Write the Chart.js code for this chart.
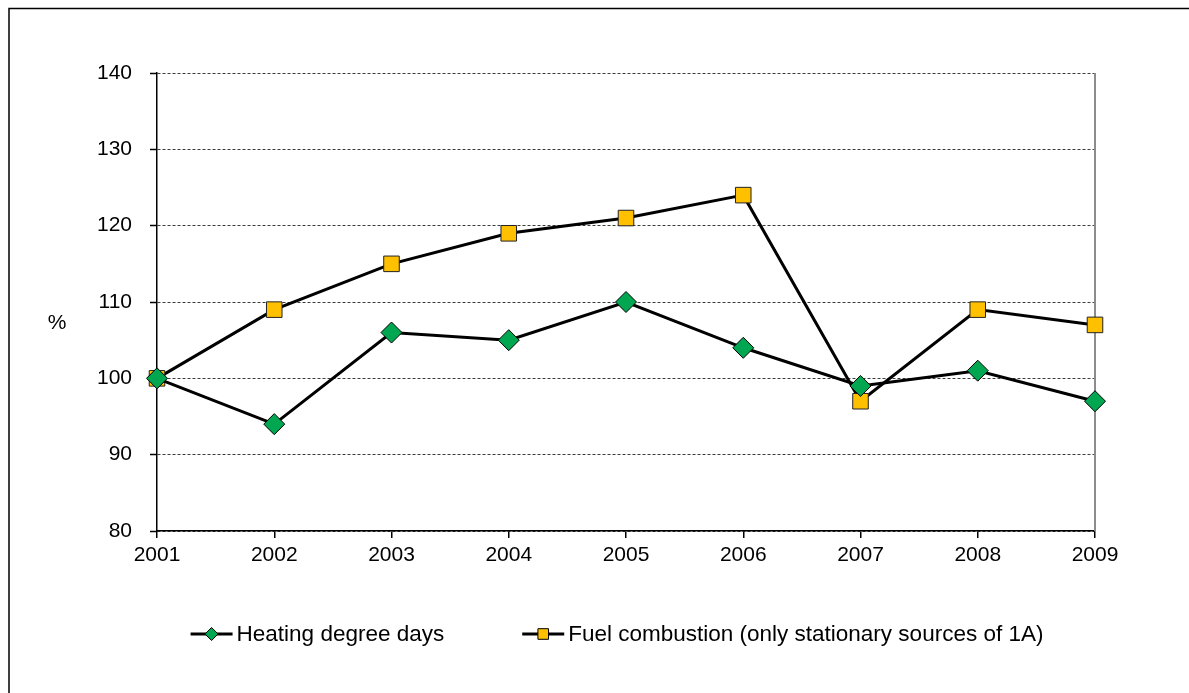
<!DOCTYPE html>
<html>
<head>
<meta charset="utf-8">
<script src="https://cdn.jsdelivr.net/npm/chart.js@4.4.0/dist/chart.umd.min.js"></script>
<style>
  html, body { margin: 0; padding: 0; background: #fff; }
  #wrap { width: 1189px; height: 693px; position: relative; }
</style>
</head>
<body>
<div id="wrap"><canvas id="myChart"></canvas></div>
<script>
const years = ['2001', '2002', '2003', '2004', '2005', '2006', '2007', '2008', '2009'];
const heatingDegreeDays = [100, 94, 106, 105, 110, 104, 99, 101, 97];
const fuelCombustion = [100, 109, 115, 119, 121, 124, 97, 109, 107];
const yTicks = [80, 90, 100, 110, 120, 130, 140];
const seriesNames = ['Heating degree days', 'Fuel combustion (only stationary sources of 1A)'];
const yAxisLabel = '%';

const FONT = "'Liberation Sans', Arial, sans-serif";

// frame, plot border, unrotated "%" label and the Excel-style legend
const decor = {
  id: 'decor',
  beforeDatasetsDraw(chart) {
    const { ctx, chartArea } = chart;
    ctx.save();
    ctx.strokeStyle = '#8c8c8c';
    ctx.lineWidth = 2;
    ctx.beginPath();
    ctx.moveTo(chartArea.right, chartArea.top);
    ctx.lineTo(chartArea.right, chartArea.bottom);
    ctx.stroke();
    ctx.restore();
  },
  afterDraw(chart) {
    const { ctx, chartArea } = chart;
    ctx.save();
    // outer frame (only top and left visible)
    ctx.strokeStyle = '#000';
    ctx.lineWidth = 1.5;
    ctx.beginPath();
    ctx.moveTo(chart.width, 8.5);
    ctx.lineTo(9, 8.5);
    ctx.lineTo(9, chart.height);
    ctx.stroke();

    ctx.font = '21px ' + FONT;
    ctx.fillStyle = '#000';
    ctx.textAlign = 'center';
    ctx.textBaseline = 'middle';
    ctx.fillText(yAxisLabel, 57, 323);

    // legend
    ctx.font = '22.5px ' + FONT;
    const y = 634;
    const lineLen = 42, gap = 78, textGap = 4;
    const items = chart.data.datasets.map(ds => ({ ds, w: lineLen + textGap + ctx.measureText(ds.label).width }));
    const total = items.reduce((a, it) => a + it.w, 0) + gap * (items.length - 1);
    let x = (chartArea.left + chartArea.right) / 2 - 9 - total / 2;
    ctx.textAlign = 'left';
    items.forEach(it => {
      const ds = it.ds;
      ctx.strokeStyle = '#000';
      ctx.lineWidth = 3;
      ctx.beginPath();
      ctx.moveTo(x, y);
      ctx.lineTo(x + lineLen, y);
      ctx.stroke();
      ctx.fillStyle = ds.pointBackgroundColor;
      ctx.strokeStyle = '#000';
      ctx.lineWidth = 1;
      Chart.helpers.drawPoint(ctx, {
        pointStyle: ds.pointStyle,
        radius: ds.pointStyle === 'rect' ? 7.5 : 6.5,
        rotation: 0,
        borderWidth: 1
      }, x + lineLen / 2, y);
      ctx.fillStyle = '#000';
      ctx.fillText(ds.label, x + lineLen + textGap, y + 1);
      x += it.w + gap;
    });
    ctx.restore();
  }
};

new Chart(document.getElementById('myChart').getContext('2d'), {
  type: 'line',
  data: {
    labels: years,
    datasets: [{
      label: seriesNames[0],
      data: heatingDegreeDays,
      borderColor: '#000',
      borderWidth: 3,
      pointStyle: 'rectRot',
      pointRadius: 10.5,
      pointHoverRadius: 10.5,
      pointBackgroundColor: '#00a650',
      pointBorderColor: '#000',
      pointBorderWidth: 1,
      fill: false,
      tension: 0
    }, {
      label: seriesNames[1],
      data: fuelCombustion,
      borderColor: '#000',
      borderWidth: 3,
      pointStyle: 'rect',
      pointRadius: 11,
      pointHoverRadius: 11,
      pointBackgroundColor: '#ffc000',
      pointBorderColor: '#222',
      pointBorderWidth: 1,
      fill: false,
      tension: 0
    }]
  },
  options: {
    responsive: true,
    maintainAspectRatio: false,
    animation: false,
    events: [],
    layout: { padding: { left: 0, right: 94, top: 73, bottom: 0 } },
    font: { family: FONT, size: 21 },
    plugins: {
      legend: { display: false },
      tooltip: { enabled: false }
    },
    scales: {
      x: {
        type: 'category',
        offset: false,
        grid: {
          offset: false,
          drawOnChartArea: false,
          drawTicks: true,
          tickLength: 7,
          tickColor: '#000',
          color: '#000',
          lineWidth: 1.5
        },
        border: { color: '#000', width: 1.5 },
        ticks: { color: '#000', font: { family: FONT, size: 21 }, padding: 5, maxRotation: 0, autoSkip: false },
        afterFit: s => { s.height = 162; }
      },
      y: {
        min: 80,
        max: 140,
        afterBuildTicks: s => { s.ticks = yTicks.map(v => ({ value: v })); },
        grid: {
          color: '#3c3c3c',
          lineWidth: 1,
          tickLength: 7,
          tickColor: '#000',
          tickWidth: 1.5
        },
        border: { color: '#000', width: 1.5, dash: [3, 2] },
        ticks: { color: '#000', font: { family: FONT, size: 21 }, padding: 18 },
        afterFit: s => { s.width = 157; }
      }
    }
  },
  plugins: [decor]
});
</script>
</body>
</html>
